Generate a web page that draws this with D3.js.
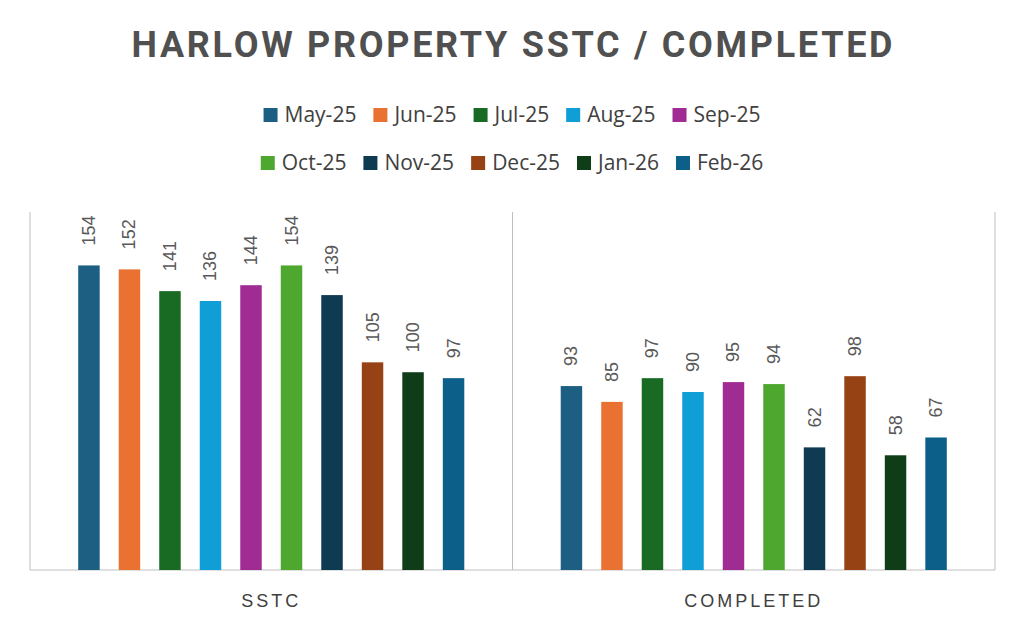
<!DOCTYPE html>
<html>
<head>
<meta charset="utf-8">
<script src="https://cdn.jsdelivr.net/npm/d3@7"></script>
<style>
  body { margin: 0; background: #fff; }
  svg { display: block; }
</style>
</head>
<body>
<svg id="chart" width="1024" height="631"></svg>
<script>
// data
const groups = ["SSTC", "COMPLETED"]
const months = ["May-25", "Jun-25", "Jul-25", "Aug-25", "Sep-25", "Oct-25", "Nov-25", "Dec-25", "Jan-26", "Feb-26"]
const sstc = [154, 152, 141, 136, 144, 154, 139, 105, 100, 97]
const completed = [93, 85, 97, 90, 95, 94, 62, 98, 58, 67]
const colors = ["#1d5f82", "#e97132", "#196b24", "#0f9ed5", "#a02b93", "#4ea72e", "#0e3a52", "#974214", "#0f3d18", "#0b5f88"]

const svg = d3.select("#chart")
const width = 1024, height = 631
const margin = { top: 214, right: 29, bottom: 61, left: 30 }

const rows = groups.map((g, i) => ({
    group: g,
    values: (i === 0 ? sstc : completed).map((v, j) => ({ month: months[j], value: v }))
}))

// scales
const x0 = d3.scaleBand()
    .domain(groups)
    .range([margin.left, width - margin.right])

const x1 = d3.scaleBand()
    .domain(months)
    .range([0, x0.bandwidth()])
    .paddingInner(0.47)
    .paddingOuter(1.19)

const y = d3.scaleLinear()
    .domain([0, 180])
    .range([height - margin.bottom, margin.top])

// title
svg.append("text")
    .attr("x", width / 2)
    .attr("y", 57)
    .attr("text-anchor", "middle")
    .attr("textLength", 761)
    .attr("lengthAdjust", "spacing")
    .style("font-family", "Roboto, 'Open Sans', sans-serif")
    .style("font-weight", 700)
    .style("font-size", "36px")
    .style("fill", "#505050")
    .text("HARLOW PROPERTY SSTC / COMPLETED")

// legend, two rows of five
const legendRows = [months.slice(0, 5), months.slice(5)]
const gap = 17
legendRows.forEach((items, r) => {
    const ty = 122 + r * 48
    const row = svg.append("g")
    let cx = 0
    items.forEach((m) => {
        const item = row.append("g").attr("transform", `translate(${cx}, 0)`)
        item.append("rect")
            .attr("x", 0).attr("y", -14)
            .attr("width", 14).attr("height", 14)
            .attr("fill", colors[months.indexOf(m)])
        const t = item.append("text")
            .attr("x", 21).attr("y", 0)
            .style("font-family", "'Open Sans', sans-serif")
            .style("font-size", "21px")
            .style("fill", "#404040")
            .text(m)
        cx += 21 + t.node().getComputedTextLength() + gap
    })
    row.attr("transform", `translate(${(width - (cx - gap)) / 2}, ${ty})`)
})

// frame lines
const lineCol = "#bfbfbf"
const plotTop = margin.top - 2
svg.append("line")
    .attr("x1", margin.left).attr("x2", width - margin.right)
    .attr("y1", y(0)).attr("y2", y(0))
    .attr("stroke", lineCol)
groups.concat(["end"]).forEach((g, i) => {
    const xv = i < groups.length ? x0(g) : width - margin.right
    svg.append("line")
        .attr("x1", xv).attr("x2", xv)
        .attr("y1", plotTop).attr("y2", y(0))
        .attr("stroke", lineCol)
})

// bars
const group = svg.selectAll(".grp")
    .data(rows)
    .join("g")
    .attr("class", "grp")
    .attr("transform", d => `translate(${x0(d.group)}, 0)`)

group.selectAll("rect")
    .data(d => d.values)
    .join("rect")
    .attr("x", d => x1(d.month))
    .attr("y", d => y(d.value))
    .attr("width", x1.bandwidth())
    .attr("height", d => y(0) - y(d.value))
    .attr("fill", (d, i) => colors[i])

// value labels, rotated
group.selectAll(".lbl")
    .data(d => d.values)
    .join("text")
    .attr("class", "lbl")
    .attr("transform", d => `translate(${x1(d.month) + x1.bandwidth() / 2 + 6}, ${y(d.value) - 20}) rotate(-90)`)
    .style("font-family", "'Liberation Sans', Arial, sans-serif")
    .style("font-size", "18px")
    .style("fill", "#595959")
    .text(d => d.value)

// category labels
svg.selectAll(".cat")
    .data(groups)
    .join("text")
    .attr("class", "cat")
    .attr("x", d => x0(d) + x0.bandwidth() / 2)
    .attr("y", 607)
    .attr("text-anchor", "middle")
    .style("font-family", "'Liberation Sans', Arial, sans-serif")
    .style("font-size", "18px")
    .style("letter-spacing", "3px")
    .style("fill", "#404040")
    .text(d => d)
</script>
</body>
</html>
